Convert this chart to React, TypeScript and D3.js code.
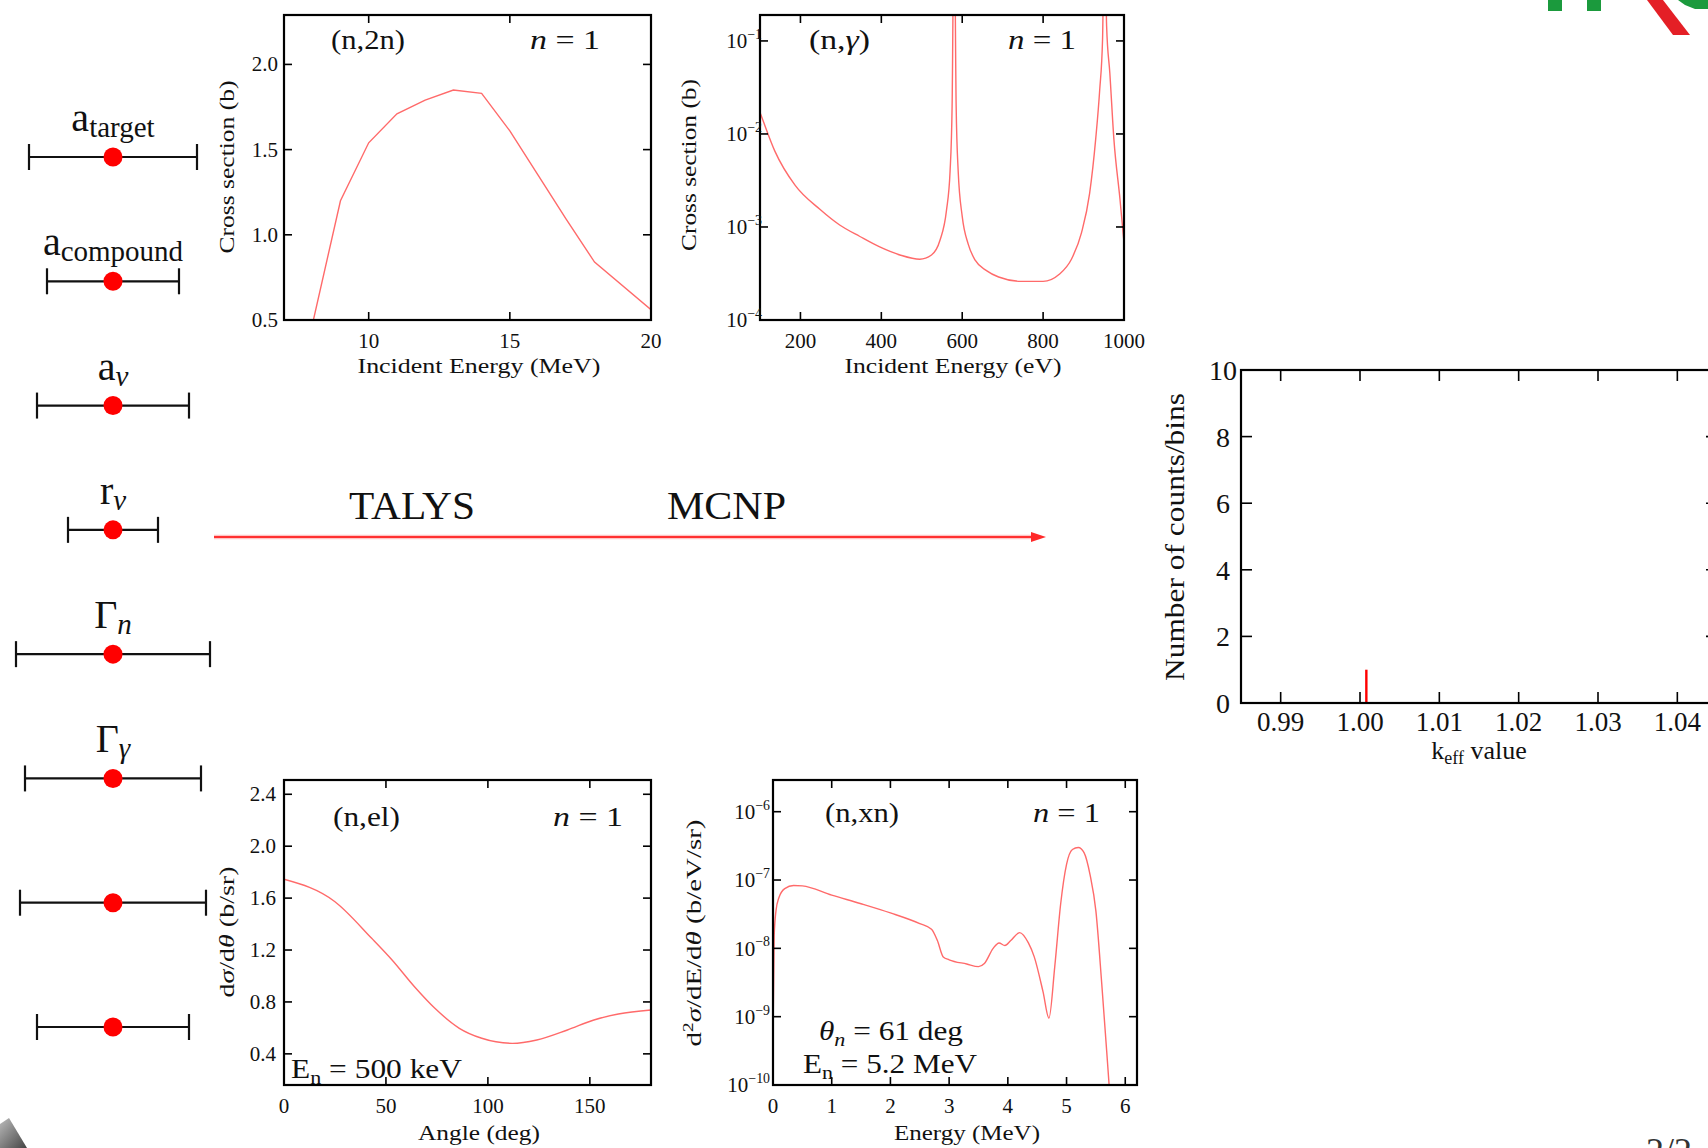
import React from "react";
import * as d3 from "d3";

const SERIF = "'Liberation Serif', 'DejaVu Serif', 'Times New Roman', serif";
const CURVE = "#ff6a6a";

// ---- left column: uncertain model parameters
const paramMain = ["a", "a", "a", "r", "Γ", "Γ", "", ""];
const paramSub = ["target", "compound", "v", "v", "n", "γ", "", ""];
const paramSubItalic = [false, false, true, true, true, true, false, false];
const paramUncertainty = [0.84, 0.66, 0.76, 0.45, 0.97, 0.88, 0.93, 0.76];

// ---- (n,2n)
const n2nEnergy = [8, 9, 10, 11, 12, 13, 14, 15, 16, 17, 18, 20];
const n2nXs = [0.47, 1.2, 1.54, 1.71, 1.79, 1.85, 1.83, 1.61, 1.35, 1.09, 0.84, 0.56];
const n2nXTicks = [10, 15, 20];
const n2nYTicks = [0.5, 1.0, 1.5, 2.0];

// ---- (n,gamma)
const ngEnergy = [100, 104, 137, 187, 248, 297, 347, 396, 446, 495, 524, 545, 561, 570, 575, 580, 585, 590, 600, 615, 632, 660, 690, 747, 800, 840, 870, 895, 915, 930, 940, 947, 952, 957, 965, 975, 990, 1000];
const ngXs = [0.017, 0.0153, 0.0065, 0.0028, 0.00155, 0.00105, 0.00079, 0.00061, 0.0005, 0.00045, 0.0005, 0.00072, 0.0015, 0.004, 0.02, 3.0, 0.02, 0.004, 0.0013, 0.00065, 0.00044, 0.00034, 0.00029, 0.00026, 0.00026, 0.00031, 0.00045, 0.00087, 0.0023, 0.0088, 0.03, 0.105, 3.0, 0.145, 0.045, 0.0088, 0.002, 0.00068];
const ngXTicks = [200, 400, 600, 800, 1000];
const ngYExp = [-4, -3, -2, -1];

// ---- k_eff histogram
const keffBins = [1.0008];
const keffCounts = [1];
const keffXTicks = [0.99, 1.0, 1.01, 1.02, 1.03, 1.04];
const keffYTicks = [0, 2, 4, 6, 8, 10];

// ---- (n,el)
const nelAngle = [0, 25, 43, 53, 64, 74, 86, 97, 112, 124, 139, 152, 164, 180];
const nelXs = [1.745, 1.572, 1.29, 1.123, 0.917, 0.751, 0.597, 0.52, 0.481, 0.507, 0.584, 0.661, 0.707, 0.738];
const nelXTicks = [0, 50, 100, 150];
const nelYTicks = [0.4, 0.8, 1.2, 1.6, 2.0, 2.4];

// ---- (n,xn)
const nxnEnergy = [0.0, 0.02, 0.05, 0.1, 0.2, 0.35, 0.5, 1.0, 1.5, 2.0, 2.5, 2.7, 2.8, 2.9, 3.0, 3.3, 3.5, 3.6, 3.75, 3.85, 3.95, 4.05, 4.2, 4.35, 4.45, 4.6, 4.7, 4.8, 4.9, 5.0, 5.1, 5.2, 5.3, 5.4, 5.5, 5.6, 5.7, 5.75];
const nxnXs = [5e-10, 1.5e-8, 3.5e-8, 5.5e-8, 7.5e-8, 8.3e-8, 8.2e-8, 6.0e-8, 4.5e-8, 3.3e-8, 2.3e-8, 1.9e-8, 1.3e-8, 7.5e-9, 6.8e-9, 5.9e-9, 5.4e-9, 6.0e-9, 1.0e-8, 1.2e-8, 1.1e-8, 1.3e-8, 1.7e-8, 1.2e-8, 7.5e-9, 2.3e-9, 9.5e-10, 5.5e-9, 4.5e-8, 1.7e-7, 2.8e-7, 3.0e-7, 2.5e-7, 1.2e-7, 3.5e-8, 3.0e-9, 2.0e-10, 5e-11];
const nxnXTicks = [0, 1, 2, 3, 4, 5, 6];
const nxnYExp = [-10, -9, -8, -7, -6];

type Box = { x0: number; x1: number; y0: number; y1: number };
const P1: Box = { x0: 284, x1: 651, y0: 15, y1: 320 };
const P2: Box = { x0: 760, x1: 1124, y0: 15, y1: 320 };
const P3: Box = { x0: 1241, x1: 1717, y0: 370, y1: 703 };
const P4: Box = { x0: 284, x1: 651, y0: 780, y1: 1085 };
const P5: Box = { x0: 773, x1: 1137, y0: 780, y1: 1085 };

function Frame({ box, xs, ys, len = 8 }: { box: Box; xs: number[]; ys: number[]; len?: number }) {
  const { x0, x1, y0, y1 } = box;
  return (
    <g stroke="#000" fill="none" strokeWidth={1.6}>
      {xs.map((x, i) => (
        <g key={"x" + i}>
          <line x1={x} x2={x} y1={y1} y2={y1 - len} />
          <line x1={x} x2={x} y1={y0} y2={y0 + len} />
        </g>
      ))}
      {ys.map((y, i) => (
        <g key={"y" + i}>
          <line x1={x0} x2={x0 + len} y1={y} y2={y} />
          <line x1={x1} x2={x1 - len} y1={y} y2={y} />
        </g>
      ))}
      <rect x={x0} y={y0} width={x1 - x0} height={y1 - y0} strokeWidth={2.2} />
    </g>
  );
}

function YTitle({ x, y, len, size = 21, children }: any) {
  return (
    <text transform={`translate(${x},${y}) rotate(-90)`} textAnchor="middle" fontSize={size}
      textLength={len} lengthAdjust="spacingAndGlyphs" fill="#111">{children}</text>
  );
}

function Txt({ x, y, len, size = 27, anchor = "start", children }: any) {
  return (
    <text x={x} y={y} fontSize={size} textAnchor={anchor} textLength={len} lengthAdjust="spacingAndGlyphs" fill="#111">{children}</text>
  );
}

function LogLabel({ x, y, exp, size = 21 }: { x: number; y: number; exp: number; size?: number }) {
  return (
    <text x={x} y={y + size * 0.35} fontSize={size} textAnchor="end" fill="#111">
      10<tspan fontSize={size * 0.66} dy={-size * 0.45}>{"−" + Math.abs(exp)}</tspan>
    </text>
  );
}

export default function App() {
  const p1x = d3.scaleLinear().domain([7, 20]).range([P1.x0, P1.x1]);
  const p1y = d3.scaleLinear().domain([0.5, 2.29]).range([P1.y1, P1.y0]);
  const p2x = d3.scaleLinear().domain([100, 1000]).range([P2.x0, P2.x1]);
  const p2y = d3.scaleLog().domain([1e-4, 0.19]).range([P2.y1, P2.y0]);
  const p3x = d3.scaleLinear().domain([0.985, 1.045]).range([P3.x0, P3.x1]);
  const p3y = d3.scaleLinear().domain([0, 10]).range([P3.y1, P3.y0]);
  const p4x = d3.scaleLinear().domain([0, 180]).range([P4.x0, P4.x1]);
  const p4y = d3.scaleLinear().domain([0.16, 2.51]).range([P4.y1, P4.y0]);
  const p5x = d3.scaleLinear().domain([0, 6.2]).range([P5.x0, P5.x1]);
  const p5y = d3.scaleLog().domain([1e-10, Math.pow(10, -5.536)]).range([P5.y1, P5.y0]);

  const rowY = d3.scaleLinear().domain([0, 7]).range([157, 1027]);
  const errX = d3.scaleLinear().domain([-1, 1]).range([13, 213]);

  const line2n = d3.line<number>().x((_, i) => p1x(n2nEnergy[i])).y((d) => p1y(d))(n2nXs) || "";
  const lineNg = d3.line<number>().x((_, i) => p2x(ngEnergy[i])).y((d) => p2y(d)).curve(d3.curveMonotoneX)(ngXs) || "";
  const lineNel = d3.line<number>().x((_, i) => p4x(nelAngle[i])).y((d) => p4y(d)).curve(d3.curveMonotoneX)(nelXs) || "";
  const lineNxn = d3.line<number>().x((_, i) => p5x(nxnEnergy[i])).y((d) => p5y(d)).curve(d3.curveMonotoneX)(nxnXs) || "";

  const clip = (id: string, b: Box) => (
    <clipPath id={id}><rect x={b.x0} y={b.y0} width={b.x1 - b.x0} height={b.y1 - b.y0} /></clipPath>
  );

  const n1 = (x: number, y: number, len: number) => (
    <Txt x={x} y={y} len={len}><tspan fontStyle="italic">n</tspan> = 1</Txt>
  );

  return (
    <svg width={1708} height={1148} style={{ position: "absolute", left: 0, top: 0, background: "#fff" }} fontFamily={SERIF}>
      <defs>
        {clip("c1", P1)}{clip("c2", P2)}{clip("c3", P3)}{clip("c4", P4)}{clip("c5", P5)}
        <linearGradient id="swoosh" x1="0" y1="0" x2="1" y2="1">
          <stop offset="0" stopColor="#bbb" />
          <stop offset="1" stopColor="#444" />
        </linearGradient>
      </defs>

      {/* logo fragments */}
      <rect x={1548} y={0} width={14} height={11} fill="#1b9a3d" />
      <rect x={1587} y={0} width={14} height={11} fill="#1b9a3d" />
      <polygon points="1647,0 1663,0 1690,35 1673,35" fill="#e41f26" />
      <polygon points="1678,0 1708,0 1708,9 1695,9 1685,5" fill="#1b9a3d" />

      {/* bottom-left swoosh */}
      <polygon points="0,1124 9,1118 27,1148 0,1148" fill="url(#swoosh)" />

      {/* page number */}
      <text x={1646} y={1163} fontSize={36} fill="#333">2/2</text>

      {/* left column parameters */}
      {paramUncertainty.map((u, i) => {
        const cy = rowY(i);
        const l = errX(-u), r = errX(u);
        return (
          <g key={"p" + i}>
            <line x1={l} x2={r} y1={cy} y2={cy} stroke="#111" strokeWidth={2.2} />
            <line x1={l} x2={l} y1={cy - 13} y2={cy + 13} stroke="#111" strokeWidth={2.2} />
            <line x1={r} x2={r} y1={cy - 13} y2={cy + 13} stroke="#111" strokeWidth={2.2} />
            <circle cx={errX(0)} cy={cy} r={9.5} fill="#ff0000" />
            {paramMain[i] !== "" && (
              <text x={errX(0)} y={cy - 26} fontSize={40} textAnchor="middle" fill="#111">
                {paramMain[i]}
                <tspan fontSize={29} dy={6} fontStyle={paramSubItalic[i] ? "italic" : "normal"}>{paramSub[i]}</tspan>
              </text>
            )}
          </g>
        );
      })}

      {/* TALYS -> MCNP arrow */}
      <line x1={214} x2={1034} y1={537} y2={537} stroke="#ffc4c4" strokeWidth={4.5} />
      <line x1={214} x2={1034} y1={537} y2={537} stroke="#ff3030" strokeWidth={1.8} />
      <polygon points="1031,532 1046,537 1031,542" fill="#ff2a2a" />
      <Txt x={349} y={518.5} size={40} len={126}>TALYS</Txt>
      <Txt x={667} y={518.5} size={40} len={119}>MCNP</Txt>

      {/* ---------- Panel 1 (n,2n) ---------- */}
      <path d={line2n} fill="none" stroke={CURVE} strokeWidth={1.4} clipPath="url(#c1)" />
      <Frame box={P1} xs={n2nXTicks.map(p1x)} ys={n2nYTicks.map(p1y)} />
      {n2nXTicks.map((t) => (
        <text key={t} x={p1x(t)} y={348} fontSize={21} textAnchor="middle" fill="#111">{t}</text>
      ))}
      {n2nYTicks.map((t) => (
        <text key={t} x={P1.x0 - 6} y={p1y(t) + 7} fontSize={21} textAnchor="end" fill="#111">{d3.format(".1f")(t)}</text>
      ))}
      <Txt x={331} y={49} len={74}>(n,2n)</Txt>
      {n1(530, 49, 70)}
      <Txt x={479} y={373} size={21} anchor="middle" len={243}>Incident Energy (MeV)</Txt>
      <YTitle x={234} y={167} len={173}>Cross section (b)</YTitle>

      {/* ---------- Panel 2 (n,gamma) ---------- */}
      <path d={lineNg} fill="none" stroke={CURVE} strokeWidth={1.4} clipPath="url(#c2)" />
      <Frame box={P2} xs={ngXTicks.map(p2x)} ys={ngYExp.map((e) => p2y(Math.pow(10, e)))} />
      {ngXTicks.map((t) => (
        <text key={t} x={p2x(t)} y={348} fontSize={21} textAnchor="middle" fill="#111">{t}</text>
      ))}
      {ngYExp.map((e) => (
        <LogLabel key={e} x={P2.x0 + 2} y={p2y(Math.pow(10, e))} exp={e} />
      ))}
      <Txt x={809} y={49} len={61}>(n,<tspan fontStyle="italic">γ</tspan>)</Txt>
      {n1(1008, 49, 68)}
      <Txt x={953} y={373} size={21} anchor="middle" len={217}>Incident Energy (eV)</Txt>
      <YTitle x={696} y={165} len={172}>Cross section (b)</YTitle>

      {/* ---------- Panel 3 k_eff histogram ---------- */}
      <g clipPath="url(#c3)">
        {keffBins.map((k, i) => (
          <rect key={i} x={p3x(k) - 1.2} y={p3y(keffCounts[i])} width={2.4} height={p3y(0) - p3y(keffCounts[i])} fill="#ff0000" />
        ))}
      </g>
      <Frame box={P3} xs={keffXTicks.map(p3x)} ys={keffYTicks.map(p3y)} len={11} />
      {keffXTicks.map((t) => (
        <text key={t} x={p3x(t)} y={731} fontSize={27} textAnchor="middle" fill="#111">{d3.format(".2f")(t)}</text>
      ))}
      {keffYTicks.map((t) => (
        <text key={t} x={1223} y={p3y(t) + 10} fontSize={28} textAnchor="middle" fill="#111">{t}</text>
      ))}
      <text x={1479} y={759} fontSize={26} textAnchor="middle" fill="#111">
        k<tspan fontSize={18} dy={5}>eff</tspan><tspan dy={-5}> value</tspan>
      </text>
      <YTitle x={1184} y={537} len={288} size={28}>Number of counts/bins</YTitle>

      {/* ---------- Panel 4 (n,el) ---------- */}
      <path d={lineNel} fill="none" stroke={CURVE} strokeWidth={1.4} clipPath="url(#c4)" />
      <Frame box={P4} xs={nelXTicks.map(p4x)} ys={nelYTicks.map(p4y)} />
      {nelXTicks.map((t) => (
        <text key={t} x={p4x(t)} y={1113} fontSize={21} textAnchor="middle" fill="#111">{t}</text>
      ))}
      {nelYTicks.map((t) => (
        <text key={t} x={P4.x0 - 8} y={p4y(t) + 7} fontSize={21} textAnchor="end" fill="#111">{d3.format(".1f")(t)}</text>
      ))}
      <Txt x={333} y={826} len={67}>(n,el)</Txt>
      {n1(553, 826, 70)}
      <Txt x={291} y={1078} len={171}>E<tspan fontSize={19} dy={6}>n</tspan><tspan dy={-6}> = 500 keV</tspan></Txt>
      <Txt x={479} y={1140} size={21} anchor="middle" len={122}>Angle (deg)</Txt>
      <YTitle x={234} y={932} len={131}>d<tspan fontStyle="italic">σ</tspan>/d<tspan fontStyle="italic">θ</tspan> (b/sr)</YTitle>

      {/* ---------- Panel 5 (n,xn) ---------- */}
      <path d={lineNxn} fill="none" stroke={CURVE} strokeWidth={1.4} clipPath="url(#c5)" />
      <Frame box={P5} xs={nxnXTicks.map(p5x)} ys={nxnYExp.map((e) => p5y(Math.pow(10, e)))} />
      {nxnXTicks.map((t) => (
        <text key={t} x={p5x(t)} y={1113} fontSize={21} textAnchor="middle" fill="#111">{t}</text>
      ))}
      {nxnYExp.map((e) => (
        <LogLabel key={e} x={P5.x0 - 3} y={p5y(Math.pow(10, e))} exp={e} />
      ))}
      <Txt x={825} y={822} len={74}>(n,xn)</Txt>
      {n1(1033, 822, 67)}
      <Txt x={819} y={1040} len={144}><tspan fontStyle="italic">θ</tspan><tspan fontSize={19} dy={6} fontStyle="italic">n</tspan><tspan dy={-6}> = 61 deg</tspan></Txt>
      <Txt x={803} y={1073} len={174}>E<tspan fontSize={19} dy={6}>n</tspan><tspan dy={-6}> = 5.2 MeV</tspan></Txt>
      <Txt x={967} y={1140} size={21} anchor="middle" len={146}>Energy (MeV)</Txt>
      <YTitle x={701} y={933} len={227}>d<tspan fontSize={14} dy={-8}>2</tspan><tspan dy={8} fontStyle="italic">σ</tspan>/dE/d<tspan fontStyle="italic">θ</tspan> (b/eV/sr)</YTitle>
    </svg>
  );
}
